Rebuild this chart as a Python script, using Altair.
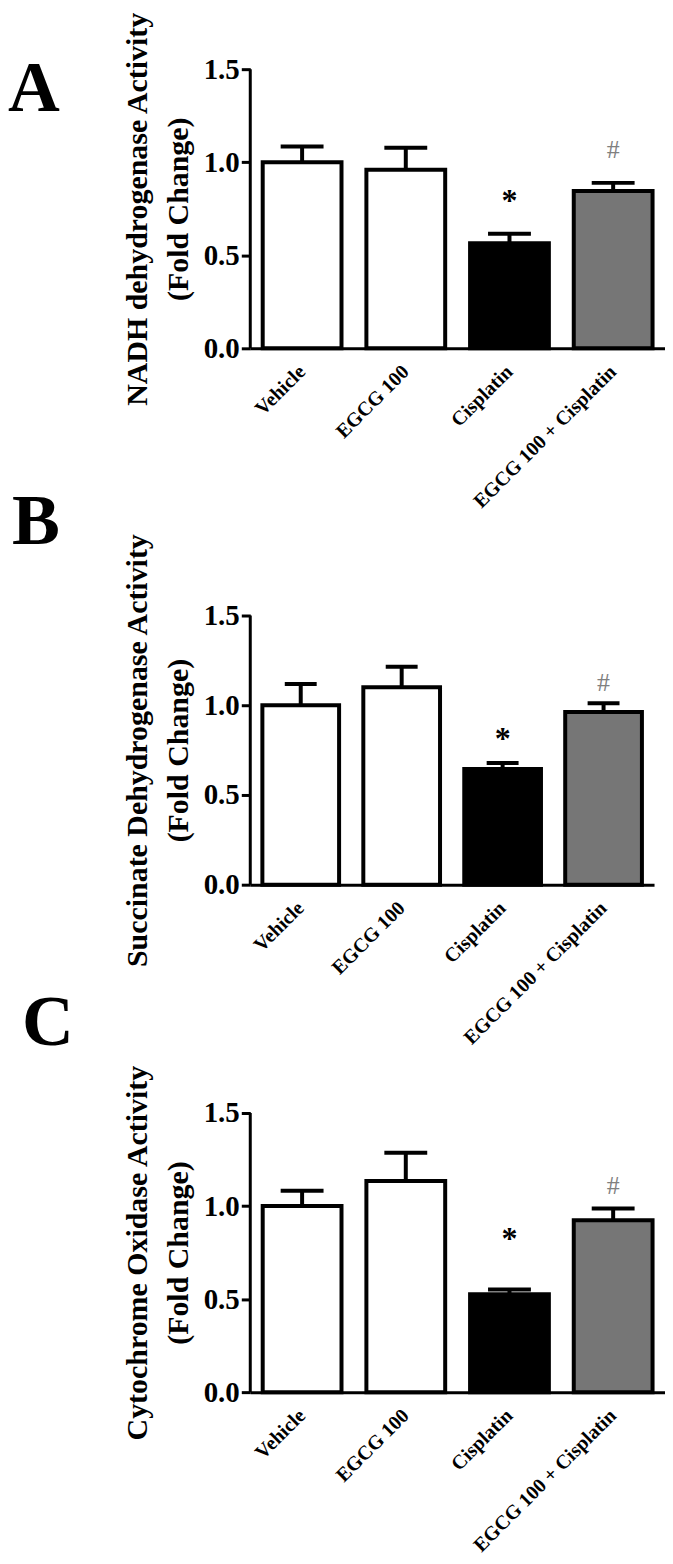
import altair as alt
import pandas as pd

# ---------------- data ----------------
categories = ["Vehicle", "EGCG 100", "Cisplatin", "EGCG 100 + Cisplatin"]
fills = ["#ffffff", "#ffffff", "#000000", "#767676"]

a_values = [1.00, 0.96, 0.565, 0.845]
a_upper = [1.085, 1.078, 0.616, 0.889]

b_values = [1.00, 1.10, 0.645, 0.962]
b_upper = [1.118, 1.215, 0.678, 1.011]

c_values = [1.00, 1.135, 0.526, 0.924]
c_upper = [1.082, 1.287, 0.552, 0.987]

star_y = [0.79, 0.814, 0.822]      # '*' above Cisplatin
hash_y = [1.063, 1.125, 1.11]      # '#' above EGCG 100 + Cisplatin

titles = [
    ["NADH dehydrogenase Activity", "(Fold Change)"],
    ["Succinate Dehydrogenase Activity", "(Fold Change)"],
    ["Cytochrome Oxidase Activity", "(Fold Change)"],
]
letters = ["A", "B", "C"]
y_ticks = [0.0, 0.5, 1.0, 1.5]
y_axis_top = 1.5

FONT = "Liberation Serif"


def panel(values, upper, star, hsh, title, letter, height, ymax, width,
          cap_size, letter_x, letter_y, title_y=None):
    df = pd.DataFrame({"cat": categories, "val": values, "up": upper, "fill": fills})
    xscale = alt.Scale(paddingInner=0.24, paddingOuter=0.12)
    xaxis = alt.Axis(title=None, labelAngle=-45, labelFont=FONT, labelFontWeight="bold",
                     labelFontSize=20, labelColor="black", ticks=False, domainColor="black",
                     domainWidth=3, labelPadding=13, labelOffset=-7, labelLimit=400,
                     grid=False)
    yscale = alt.Scale(domain=[0, ymax], nice=False, zero=True)
    ax = dict(values=y_ticks, format=".1f", title=title, domain=False, tickColor="black",
              tickWidth=3, tickSize=9, labelFont=FONT, labelFontSize=29, labelFontWeight="bold",
              labelColor="black", labelPadding=2, titleFont=FONT, titleFontSize=30,
              titleFontWeight="bold", titleColor="black", titleLineHeight=41, titlePadding=10,
              grid=False)
    if title_y is not None:
        ax["titleY"] = title_y
    X = alt.X("cat:N", sort=categories, scale=xscale, axis=xaxis)

    bars = alt.Chart(df).mark_bar(stroke="black", strokeWidth=4).encode(
        x=X,
        y=alt.Y("val:Q", scale=yscale, axis=alt.Axis(**ax)),
        fill=alt.Fill("fill:N", scale=None),
    )
    stem = alt.Chart(df).mark_rule(color="black", strokeWidth=4).encode(
        x=X, y=alt.Y("val:Q", scale=yscale), y2="up:Q")
    cap = alt.Chart(df).mark_tick(color="black", size=cap_size, thickness=4, opacity=1).encode(
        x=X, y=alt.Y("up:Q", scale=yscale))
    axline = alt.Chart(pd.DataFrame({"y0": [0.0], "y1": [y_axis_top]})).mark_rule(
        color="black", strokeWidth=3).encode(
        x=alt.value(0), y=alt.Y("y0:Q", scale=yscale), y2="y1:Q")
    stars = alt.Chart(pd.DataFrame({"cat": ["Cisplatin"], "y": [star], "s": ["*"]})).mark_text(
        font=FONT, fontSize=32, fontWeight="bold", color="black", baseline="middle").encode(
        x=X, y=alt.Y("y:Q", scale=yscale), text="s:N")
    hashes = alt.Chart(pd.DataFrame({"cat": ["EGCG 100 + Cisplatin"], "y": [hsh], "s": ["#"]})).mark_text(
        font=FONT, fontSize=26, fontWeight="normal", color="#808080", baseline="middle").encode(
        x=X, y=alt.Y("y:Q", scale=yscale), text="s:N")
    let = alt.Chart(pd.DataFrame({"l": [letter]})).mark_text(
        font=FONT, fontSize=72, fontWeight="bold", color="black", align="left",
        baseline="alphabetic").encode(
        x=alt.value(letter_x), y=alt.value(letter_y), text="l:N")
    return alt.layer(bars, stem, cap, axline, stars, hashes, let).properties(
        width=width, height=height)


pa = panel(a_values, a_upper, star_y[0], hash_y[0], titles[0], letters[0],
           height=280, ymax=1.5, width=416, cap_size=43, letter_x=-243, letter_y=42)
pb = panel(b_values, b_upper, star_y[1], hash_y[1], titles[1], letters[1],
           height=309, ymax=1.5 * 309 / 270, width=405, cap_size=32, letter_x=-239,
           letter_y=-33, title_y=174)
pc = panel(c_values, c_upper, star_y[2], hash_y[2], titles[2], letters[2],
           height=280, ymax=1.5, width=416, cap_size=43, letter_x=-229, letter_y=-68)

chart = alt.vconcat(pa, pb, pc, spacing=229, bounds="flush").properties(
    padding={"left": 0, "top": 0, "right": 0, "bottom": 0},
    background="white",
).configure_view(stroke="transparent", strokeWidth=0)

chart.save("out.html", embed_options={"renderer": "svg", "actions": False})
